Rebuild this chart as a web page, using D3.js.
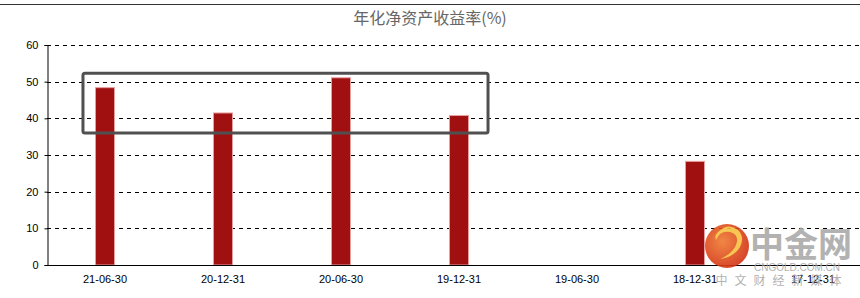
<!DOCTYPE html>
<html>
<head>
<meta charset="utf-8">
<script src="https://cdn.jsdelivr.net/npm/d3@7"></script>
<style>
  body { margin: 0; background: #fff; }
  svg { display: block; }
</style>
</head>
<body>
<svg width="860" height="298"></svg>
<script>
const categories = ["21-06-30", "20-12-31", "20-06-30", "19-12-31", "19-06-30", "18-12-31", "17-12-31"];
const values = [48.5, 41.6, 51.2, 40.9, null, 28.4, null];
const yTicks = [0, 10, 20, 30, 40, 50, 60];
const highlighted = ["21-06-30", "19-12-31"];
const highlightRange = [36, 52];

function draw() {
  const svg = d3.select("svg");
  const width = +svg.attr("width");

  const left = 47;
  const top = 45;
  const bottom = 265;

  // top border line
  svg.append("line")
    .attr("x1", 0).attr("x2", width)
    .attr("y1", 4.5).attr("y2", 4.5)
    .attr("stroke", "#333");

  svg.append("text")
    .attr("x", 430).attr("y", 24)
    .attr("text-anchor", "middle")
    .attr("font-family", "'Noto Sans CJK SC', sans-serif")
    .attr("font-size", 16)
    .attr("fill", "#666")
    .text("年化净资产收益率(%)");

  const x = d3.scaleBand()
    .domain(categories)
    .range([left - 1, left - 1 + 118 * categories.length])
    .paddingInner(0.83)
    .paddingOuter(0.415);

  const y = d3.scaleLinear().domain([0, 60]).range([bottom, top]);

  // dashed gridlines
  svg.append("g")
    .selectAll("line")
    .data(yTicks.filter(d => d > 0))
    .join("line")
    .attr("x1", left).attr("x2", width)
    .attr("y1", d => Math.round(y(d)) + 0.5)
    .attr("y2", d => Math.round(y(d)) + 0.5)
    .attr("stroke", "#000")
    .attr("stroke-dasharray", "4,4");

  // bars
  svg.append("g")
    .selectAll("rect")
    .data(categories.map((c, i) => ({ c, v: values[i] })).filter(d => d.v != null))
    .join("rect")
    .attr("x", d => x(d.c) + 0.5)
    .attr("y", d => y(d.v) + 0.5)
    .attr("width", x.bandwidth() - 1)
    .attr("height", d => bottom - y(d.v) - 0.5)
    .attr("fill", "#a01010")
    .attr("stroke", "#e8a0a0")
    .attr("stroke-width", 1);

  // y axis
  const yAxis = svg.append("g")
    .attr("transform", `translate(${left + 0.5},0)`)
    .call(d3.axisLeft(y).tickValues(yTicks).tickSize(3).tickPadding(6));
  yAxis.select(".domain").attr("stroke", "#000");
  yAxis.selectAll("text")
    .attr("font-family", "'Liberation Sans', Arial, sans-serif")
    .attr("font-size", 11)
    .attr("fill", "#000");

  // x axis
  const xAxis = svg.append("g")
    .attr("transform", `translate(0,${bottom + 0.5})`)
    .call(d3.axisBottom(x).tickSize(0).tickPadding(10));
  xAxis.select(".domain").attr("stroke", "#000").attr("d", `M${left},0H${width}`);
  xAxis.selectAll("text")
    .attr("font-family", "'Liberation Sans', Arial, sans-serif")
    .attr("font-size", 11)
    .attr("fill", "#000");

  // highlight box
  const x0 = x(highlighted[0]) - 12;
  const x1 = x(highlighted[1]) + x.bandwidth() + 19;
  svg.append("rect")
    .attr("x", x0)
    .attr("y", y(highlightRange[1]) - 1)
    .attr("width", x1 - x0)
    .attr("height", y(highlightRange[0]) - y(highlightRange[1]) + 1)
    .attr("rx", 2)
    .attr("fill", "none")
    .attr("stroke", "#505050")
    .attr("stroke-width", 3);

  // watermark
  const wm = svg.append("g").attr("opacity", 0.9);
  const grad = svg.append("defs").append("radialGradient")
    .attr("id", "logo").attr("cx", "40%").attr("cy", "40%").attr("r", "70%");
  grad.append("stop").attr("offset", "0%").attr("stop-color", "#f07a30");
  grad.append("stop").attr("offset", "100%").attr("stop-color", "#d02a10");
  wm.append("circle").attr("cx", 727).attr("cy", 246).attr("r", 22).attr("fill", "url(#logo)");
  wm.append("path")
    .attr("d", "M716,240 q4,-10 14,-8 q10,3 6,13 q-4,9 -16,14 q14,-2 20,-12 q5,-10 -2,-17 q-10,-8 -20,2 q-4,4 -2,8 z")
    .attr("fill", "#f8c040");
  wm.append("text")
    .attr("x", 801).attr("y", 257)
    .attr("text-anchor", "middle")
    .attr("font-family", "'Noto Sans CJK SC', sans-serif")
    .attr("font-weight", "bold")
    .attr("font-size", 34)
    .attr("fill", "#aaa")
    .text("中金网");
  wm.append("text")
    .attr("x", 797).attr("y", 271)
    .attr("text-anchor", "middle")
    .attr("font-family", "'Liberation Sans', Arial, sans-serif")
    .attr("font-size", 10)
    .attr("fill", "#aaa")
    .text("CNGOLD.COM.CN");
  wm.append("text")
    .attr("x", 782).attr("y", 285)
    .attr("text-anchor", "middle")
    .attr("font-family", "'Noto Sans CJK SC', sans-serif")
    .attr("font-size", 12)
    .attr("letter-spacing", 7)
    .attr("fill", "#aaa")
    .text("中文财经新媒体");
}

window.onload = draw;
</script>
</body>
</html>
